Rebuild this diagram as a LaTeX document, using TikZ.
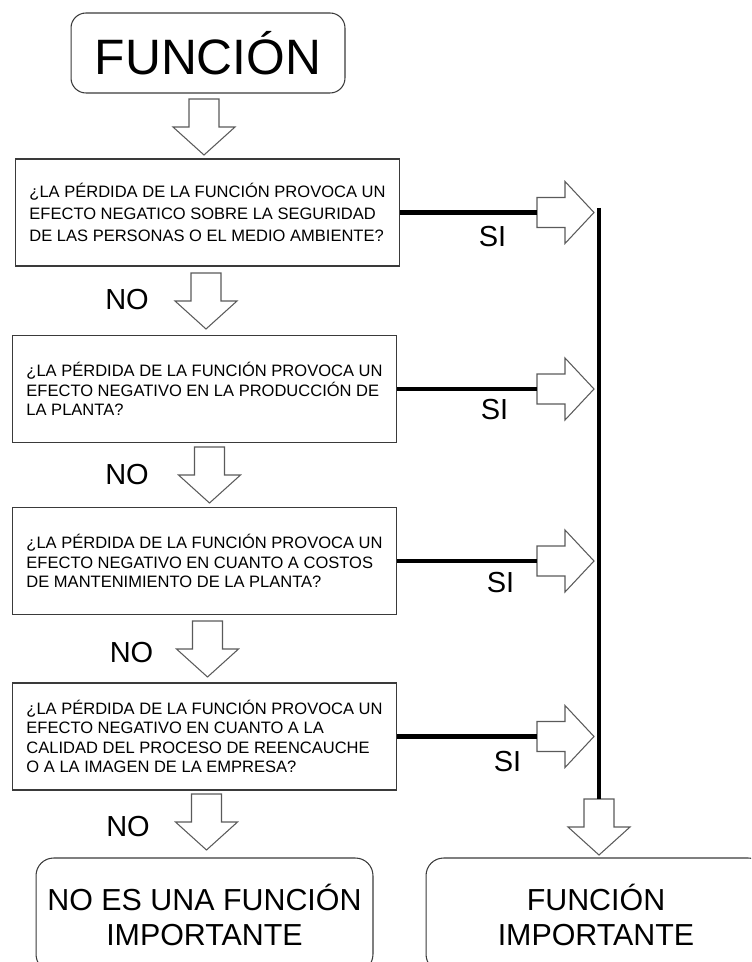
\documentclass[tikz,border=0pt]{standalone}
\usepackage{fontspec}
\setmainfont{Liberation Sans}
\usetikzlibrary{positioning}
\definecolor{cline}{HTML}{3A3A3A}
\definecolor{carrow}{HTML}{5A5A5A}

\tikzset{
  blk/.style={draw=carrow, fill=white, line width=0.6pt, line join=miter},
  dnarrow/.pic={
    \draw[blk] (-15,0) -- (15,0) -- (15,28) -- (31,28) -- (0,56) -- (-31,28) -- (-15,28) -- cycle;
    \coordinate (-top) at (0,0);
    \coordinate (-tip) at (0,56);
  },
  rtarrow/.pic={
    \draw[blk] (0,-15) -- (28,-15) -- (28,-31) -- (57,0) -- (28,31) -- (28,15) -- (0,15) -- cycle;
    \coordinate (-tail) at (0,0);
    \coordinate (-tip) at (57,0);
  }
}

\begin{document}
\begin{tikzpicture}[x=0.02cm, y=-0.02cm,
    qbox/.style={draw=cline, line width=0.6pt, minimum width=7.7cm, minimum height=2.14cm,
      align=left, font=\fontsize{9.4}{11}\selectfont},
    endbox/.style={draw=cline, line width=0.6pt, rounded corners=10pt, minimum height=2.28cm,
      align=center, font=\fontsize{17.3}{19.8}\selectfont},
    lbl/.style={inner sep=0pt, font=\fontsize{16.5}{18}\selectfont},
    siline/.style={line width=2.3pt}]
  \clip (0,0) rectangle (751,962);

  % title
  \node[draw=cline, line width=0.6pt, rounded corners=8.5pt, minimum width=5.48cm, minimum height=1.6cm,
        font=\fontsize{28.3}{34}\selectfont] (fun) at (208,53) {FUNCIÓN};

  % questions
  \node[qbox, font=\fontsize{9.4}{12.3}\selectfont] (q1) at (207.5,212.5)
    {¿LA PÉRDIDA DE LA FUNCIÓN PROVOCA UN\\EFECTO NEGATICO SOBRE LA SEGURIDAD\\DE LAS PERSONAS O EL MEDIO AMBIENTE?};
  \node[qbox] (q2) at (204.5,389)
    {¿LA PÉRDIDA DE LA FUNCIÓN PROVOCA UN\\EFECTO NEGATIVO EN LA PRODUCCIÓN DE\\LA PLANTA?};
  \node[qbox] (q3) at (204.5,561)
    {¿LA PÉRDIDA DE LA FUNCIÓN PROVOCA UN\\EFECTO NEGATIVO EN CUANTO A COSTOS\\DE MANTENIMIENTO DE LA PLANTA?};
  \node[qbox] (q4) at (204.5,736.5)
    {¿LA PÉRDIDA DE LA FUNCIÓN PROVOCA UN\\EFECTO NEGATIVO EN CUANTO A LA\\CALIDAD DEL PROCESO DE REENCAUCHE\\O A LA IMAGEN DE LA EMPRESA?};

  % results
  \node[endbox, minimum width=6.74cm] (no) at (204.5,915) {NO ES UNA FUNCIÓN\\IMPORTANTE};
  \node[endbox, minimum width=6.8cm] (imp) at (596,915) {FUNCIÓN\\IMPORTANTE};

  % NO branch
  \pic (d0) at (204,99) {dnarrow};
  \pic (d1) at (206,273) {dnarrow};
  \pic (d2) at (209.5,447) {dnarrow};
  \pic (d3) at (207.5,621) {dnarrow};
  \pic (d4) at (206.5,794) {dnarrow};
  \node[lbl] (no1) at (127,300) {NO};
  \node[lbl] (no2) at (127,475) {NO};
  \node[lbl] (no3) at (131.5,653) {NO};
  \node[lbl] (no4) at (128,827) {NO};

  % SI branch
  \pic (r1) at (537,212.5) {rtarrow};
  \pic (r2) at (537,389) {rtarrow};
  \pic (r3) at (537,561) {rtarrow};
  \pic (r4) at (537,736.5) {rtarrow};
  \draw[siline] (q1.east) -- (r1-tail);
  \draw[siline] (q2.east) -- (r2-tail);
  \draw[siline] (q3.east) -- (r3-tail);
  \draw[siline] (q4.east) -- (r4-tail);
  \node[lbl] (si1) at (492.5,237) {SI};
  \node[lbl] (si2) at (494.5,410) {SI};
  \node[lbl] (si3) at (500.5,583) {SI};
  \node[lbl] (si4) at (507.5,762) {SI};

  \coordinate (bartop) at (599,208);
  \pic (d5) at (599,799) {dnarrow};
  \draw[line width=2.5pt] (bartop) -- (d5-top);
\end{tikzpicture}
\end{document}
